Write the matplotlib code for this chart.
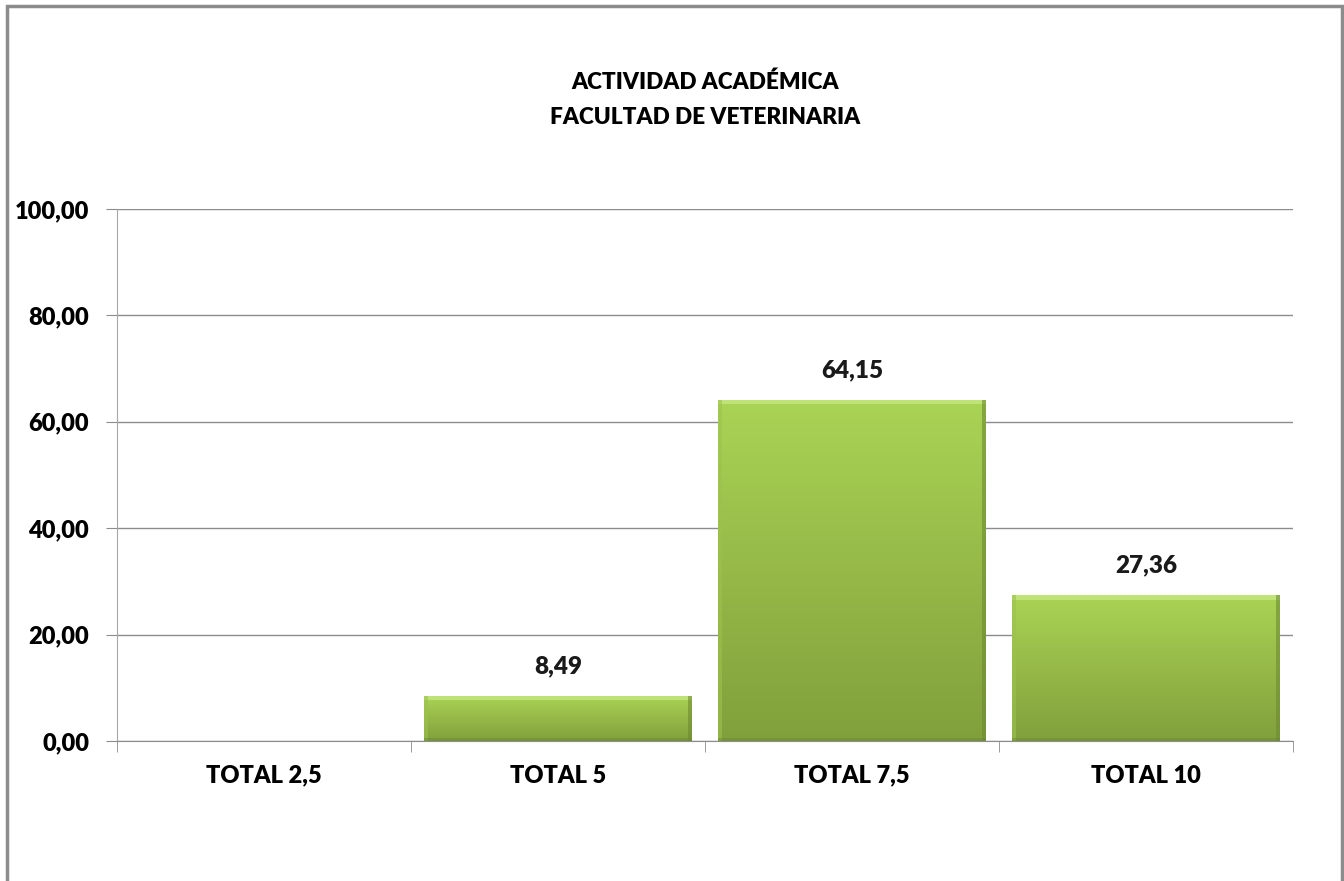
import numpy as np
import matplotlib.pyplot as plt
from matplotlib.colors import LinearSegmentedColormap
from matplotlib.patches import Rectangle

categorias = ['TOTAL 2,5', 'TOTAL 5', 'TOTAL 7,5', 'TOTAL 10']
valores = [0.0, 8.49, 64.15, 27.36]
ticks_y = [0, 20, 40, 60, 80, 100]

plt.rcParams['font.family'] = ['Lato', 'DejaVu Sans']

fig = plt.figure(figsize=(13.44, 8.81), dpi=100)
ax = fig.add_axes([0.08705, 0.15891, 0.875, 0.60386])

# marco del grafico
fig.patches.append(Rectangle((7 / 1344, -0.01), 1335 / 1344, 1 - 6 / 881 + 0.01,
                             transform=fig.transFigure, fill=False,
                             edgecolor='#8c8c8c', linewidth=2.5))

verde = LinearSegmentedColormap.from_list('verde', ['#80a03c', '#96b948', '#aad455'])
grad = np.linspace(0, 1, 256).reshape(-1, 1)

x = np.arange(len(categorias))
ancho = 0.91
barras = ax.bar(x, valores, width=ancho, color='none', edgecolor='none', zorder=3)
for b, v in zip(barras, valores):
    if v <= 0:
        continue
    x0, w, h = b.get_x(), b.get_width(), b.get_height()
    im = ax.imshow(grad, cmap=verde, origin='lower', aspect='auto',
                   extent=[x0, x0 + w, 0, h], zorder=3)
    im.set_clip_path(b)
    # bisel
    ax.add_patch(Rectangle((x0, h - 0.8), w, 0.8, color='#c6e882', alpha=0.8, lw=0, zorder=4))
    ax.add_patch(Rectangle((x0 + w - 0.012, 0), 0.012, h, color='#6d8a33', alpha=0.6, lw=0, zorder=4))
    ax.add_patch(Rectangle((x0, 0), 0.012, h, color='#9cc24e', alpha=0.6, lw=0, zorder=4))
    ax.add_patch(Rectangle((x0, 0), w, 0.5, color='#6d8a33', alpha=0.5, lw=0, zorder=4))
    ax.text(b.get_x() + w / 2, h + 5.6, '{:.2f}'.format(v).replace('.', ','),
            ha='center', va='center', fontsize=17.5, fontweight='heavy', color='#1a1a1a')

ax.set_xlim(-0.5, len(categorias) - 0.5)
ax.set_ylim(0, 100)
ax.set_yticks(ticks_y)
ax.set_yticklabels(['{:.2f}'.format(t).replace('.', ',') for t in ticks_y],
                   fontweight='heavy')
ax.yaxis.grid(True, color='#8c8c8c', linewidth=1)
ax.set_axisbelow(True)

ax.set_xticks(x)
ax.set_xticklabels(categorias, fontweight='heavy')
ax.set_xticks(np.arange(len(categorias) + 1) - 0.5, minor=True)
ax.tick_params(axis='x', which='major', length=0, pad=17, labelsize=17)
ax.tick_params(axis='x', which='minor', length=8, color='#8c8c8c')
ax.tick_params(axis='y', length=8, color='#8c8c8c', pad=12, labelsize=17)

for s in ['top', 'right']:
    ax.spines[s].set_visible(False)
ax.spines['left'].set_color('#a6a6a6')
ax.spines['bottom'].set_color('#8c8c8c')

fig.text(705 / 1344, 1 - 82 / 881, 'ACTIVIDAD ACADÉMICA', ha='center', va='center',
         fontsize=16.3, fontweight='heavy')
fig.text(705 / 1344, 1 - 118 / 881, 'FACULTAD DE VETERINARIA', ha='center', va='center',
         fontsize=16.3, fontweight='heavy')

fig.savefig('out.png', dpi=100)
